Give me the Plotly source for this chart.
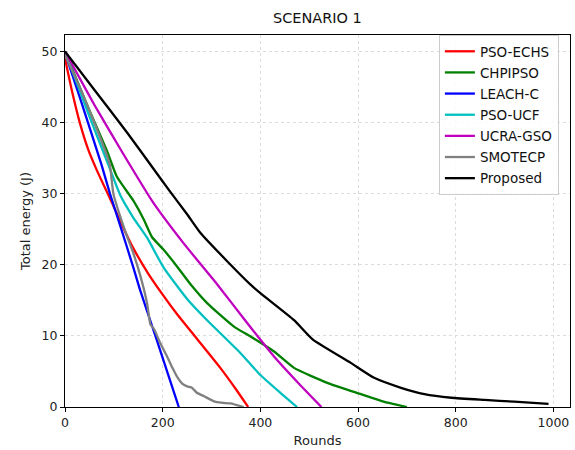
import plotly.graph_objects as go

# ---- data ----
series_names = ["PSO-ECHS", "CHPIPSO", "LEACH-C", "PSO-UCF", "UCRA-GSO", "SMOTECP", "Proposed"]
series_colors = ["#ff0000", "#008000", "#0000ff", "#00bfbf", "#bf00bf", "#808080", "#000000"]

pso_echs_x = [0, 14, 31, 48, 65, 99, 120, 140, 170, 200, 230, 270, 318, 350, 375]
pso_echs_y = [49, 44.5, 39.8, 36.1, 33.3, 28.3, 25.1, 22.3, 18.8, 15.8, 13, 9.6, 5.5, 2.5, 0]

chpipso_x = [0, 45, 86, 106, 140, 161, 178, 202, 229, 260, 291, 346, 380, 428, 469, 537, 606, 650, 674, 700]
chpipso_y = [50, 42.5, 36, 32.4, 29, 26.4, 23.9, 22.1, 19.8, 17, 14.6, 11.3, 9.9, 7.8, 5.5, 3.4, 1.8, 0.8, 0.4, 0]

leach_c_x = [0, 31, 55, 75, 92, 113, 140, 154, 188, 233]
leach_c_y = [49.8, 43.4, 38.3, 34, 30, 25.5, 19.6, 16.4, 9.4, 0]

pso_ucf_x = [0, 48, 88, 113, 140, 168, 202, 250, 291, 359, 400, 441, 475]
pso_ucf_y = [50, 41.2, 34.2, 29.8, 26.6, 23.8, 19.6, 15.2, 12.2, 7.6, 4.5, 2.0, 0]

ucra_gso_x = [0, 60, 120, 180, 243, 311, 373, 428, 480, 525]
ucra_gso_y = [50, 42.5, 35.5, 28.8, 23, 17.3, 11.8, 7.1, 3.2, 0]

smotecp_x = [0, 30, 60, 85, 92, 99, 113, 127, 140, 154, 168, 175, 182, 195, 209, 220, 229, 240, 250, 260, 270, 285, 305, 320, 339, 350, 366]
smotecp_y = [49.5, 45, 40, 35.5, 34, 30, 26.8, 24, 21.6, 18.5, 14.6, 11.6, 11, 9.0, 7.1, 5.5, 4.3, 3.3, 2.9, 2.7, 2.0, 1.5, 0.8, 0.6, 0.5, 0.3, 0]

proposed_x = [0, 60, 127, 180, 216, 250, 277, 332, 380, 400, 469, 507, 585, 633, 688, 736, 791, 859, 920, 990]
proposed_y = [50, 44.6, 38.6, 33.6, 30.2, 27.1, 24.5, 20.5, 17.2, 16, 12.2, 9.5, 6.2, 4.1, 2.7, 1.8, 1.3, 1.0, 0.75, 0.45]

x_ticks = [0, 200, 400, 600, 800, 1000]
y_ticks = [0, 10, 20, 30, 40, 50]

series_x = [pso_echs_x, chpipso_x, leach_c_x, pso_ucf_x, ucra_gso_x, smotecp_x, proposed_x]
series_y = [pso_echs_y, chpipso_y, leach_c_y, pso_ucf_y, ucra_gso_y, smotecp_y, proposed_y]

FONT = "DejaVu Sans"

fig = go.Figure()
for name, color, xs, ys in zip(series_names, series_colors, series_x, series_y):
    fig.add_trace(go.Scatter(x=xs, y=ys, mode="lines", name=name, legendgroup=name,
                             line=dict(color=color, width=2.3, shape="spline", smoothing=0.5)))

axis_common = dict(
    showline=True, linecolor="black", linewidth=1, mirror=True,
    ticks="outside", ticklen=4, tickcolor="black", tickwidth=1,
    showgrid=True, gridcolor="#dcdcdc", griddash="dot", gridwidth=1,
    zeroline=False, tickfont=dict(family=FONT, size=12.5, color="#222"),
)

fig.update_layout(
    width=575, height=450,
    margin=dict(l=65, r=5, t=35, b=43),
    paper_bgcolor="white", plot_bgcolor="white",
    font=dict(family=FONT, color="#222"),
    title=dict(text="SCENARIO 1", x=0.552, xanchor="center", y=0.96, yanchor="middle",
               font=dict(family=FONT, size=14.5, color="#111")),
    xaxis=dict(range=[0, 1034], tickvals=x_ticks,
               title=dict(text="Rounds", font=dict(family=FONT, size=13), standoff=6),
               **axis_common),
    yaxis=dict(range=[0, 52.3], tickvals=y_ticks,
               title=dict(text="Total energy (J)", font=dict(family=FONT, size=13), standoff=8),
               **axis_common),
    legend=dict(x=0.978, xanchor="right", y=1.0, yanchor="top",
                bordercolor="#cccccc", borderwidth=1, bgcolor="rgba(255,255,255,0.85)",
                font=dict(family=FONT, size=13.5, color="#111"), tracegroupgap=0.6),
    showlegend=True,
)

fig.write_html("out.html", config={"displayModeBar": False},
               post_script="document.body.style.margin='0';document.body.style.overflow='hidden';")
